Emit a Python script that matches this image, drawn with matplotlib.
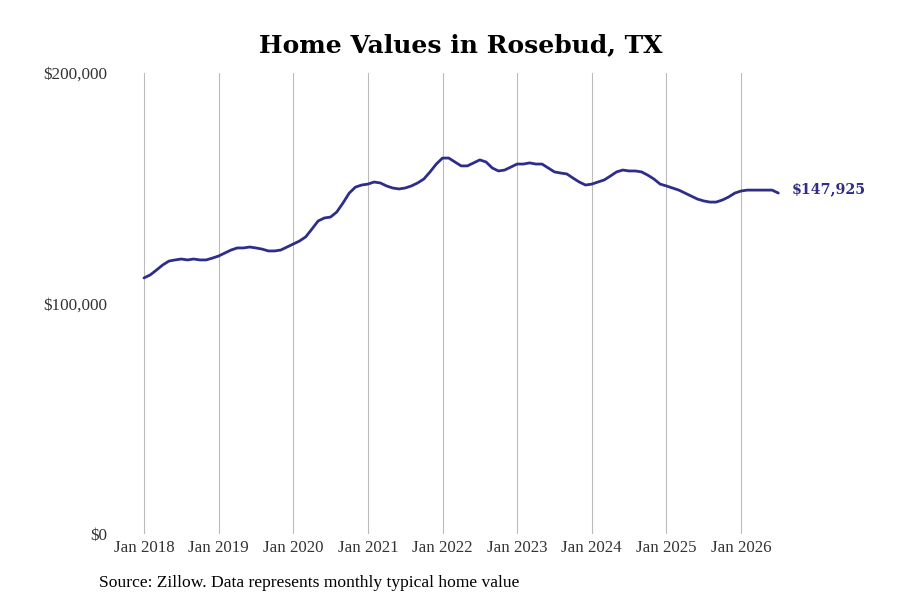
import matplotlib
matplotlib.use("Agg")
import matplotlib.pyplot as plt
import numpy as np

# monthly typical home value, Jan 2018 .. Jul 2026
values_2018 = [111100, 112400, 114500, 116700, 118400, 118900, 119300, 118900, 119300, 118900, 118900, 119700]
values_2019 = [120600, 121900, 123200, 124100, 124100, 124500, 124100, 123600, 122800, 122800, 123200, 124500]
values_2020 = [125800, 127100, 128900, 132300, 135800, 137100, 137500, 139700, 143600, 147900, 150500, 151400]
values_2021 = [151800, 152700, 152300, 151000, 150100, 149700, 150100, 151000, 152300, 154000, 157100, 160500]
values_2022 = [163100, 163100, 161400, 159700, 159700, 161000, 162300, 161400, 158800, 157500, 157900, 159200]
values_2023 = [160500, 160500, 161000, 160500, 160500, 158800, 157100, 156600, 156200, 154400, 152700, 151400]
values_2024 = [151800, 152700, 153600, 155300, 157100, 157900, 157500, 157500, 157100, 155700, 154000, 151800]
values_2025 = [151000, 150100, 149200, 147900, 146600, 145300, 144500, 144000, 144000, 144900, 146200, 147900]
values_2026 = [148800, 149200, 149200, 149200, 149200, 149200, 147925]

values = (values_2018 + values_2019 + values_2020 + values_2021 + values_2022
          + values_2023 + values_2024 + values_2025 + values_2026)
months = 2018 + np.arange(len(values)) / 12.0

tick_years = [2018, 2019, 2020, 2021, 2022, 2023, 2024, 2025, 2026]
tick_labels = ["Jan %d" % y for y in tick_years]
y_ticks = [0, 100000, 200000]
y_labels = ["$0", "$100,000", "$200,000"]

line_color = "#2e2e8a"
serif = ["Liberation Serif", "DejaVu Serif"]

fig = plt.figure(figsize=(9, 6), dpi=100)
ax = fig.add_axes([113 / 900, 1 - 534 / 600, (790 - 113) / 900, (534 - 73) / 600])

ax.plot(months, values, color=line_color, linewidth=2.0, solid_capstyle="round")

# x range chosen so Jan 2018 sits at ~144px and Jan 2026 at ~741px
px_per_year = (741 - 144) / 8.0
ax.set_xlim(2018 - (144 - 113) / px_per_year, 2018 + (790 - 144) / px_per_year)
ax.set_ylim(0, 200000)

ax.set_xticks(tick_years)
ax.set_xticklabels(tick_labels, fontfamily=serif, fontsize=12.2, color="#333333")
ax.set_yticks(y_ticks)
ax.set_yticklabels(y_labels, fontfamily=serif, fontsize=12.3, color="#333333")
ax.tick_params(axis="both", length=0)
ax.tick_params(axis="x", pad=4)
ax.tick_params(axis="y", pad=4)
for lbl in ax.get_yticklabels():
    lbl.set_verticalalignment("center_baseline")

ax.grid(axis="x", color="#bbbbbb", linewidth=0.8)
ax.grid(axis="y", visible=False)
for s in ax.spines.values():
    s.set_visible(False)

ax.annotate("$%s" % format(values[-1], ","), xy=(months[-1], values[-1]),
            xytext=(10, 3), textcoords="offset points", va="center", ha="left",
            fontfamily=["DejaVu Serif"], fontsize=10.3, fontweight="bold", color=line_color)

fig.text(0.512, 0.924, "Home Values in Rosebud, TX", ha="center", va="center",
         fontfamily=["DejaVu Serif"], fontsize=18, fontweight="bold", color="black")
fig.text(99 / 900, 1 - 583 / 600, "Source: Zillow. Data represents monthly typical home value",
         ha="left", va="center", fontfamily=serif, fontsize=12.6, color="black")

fig.savefig("out.png", dpi=100, facecolor="white")
